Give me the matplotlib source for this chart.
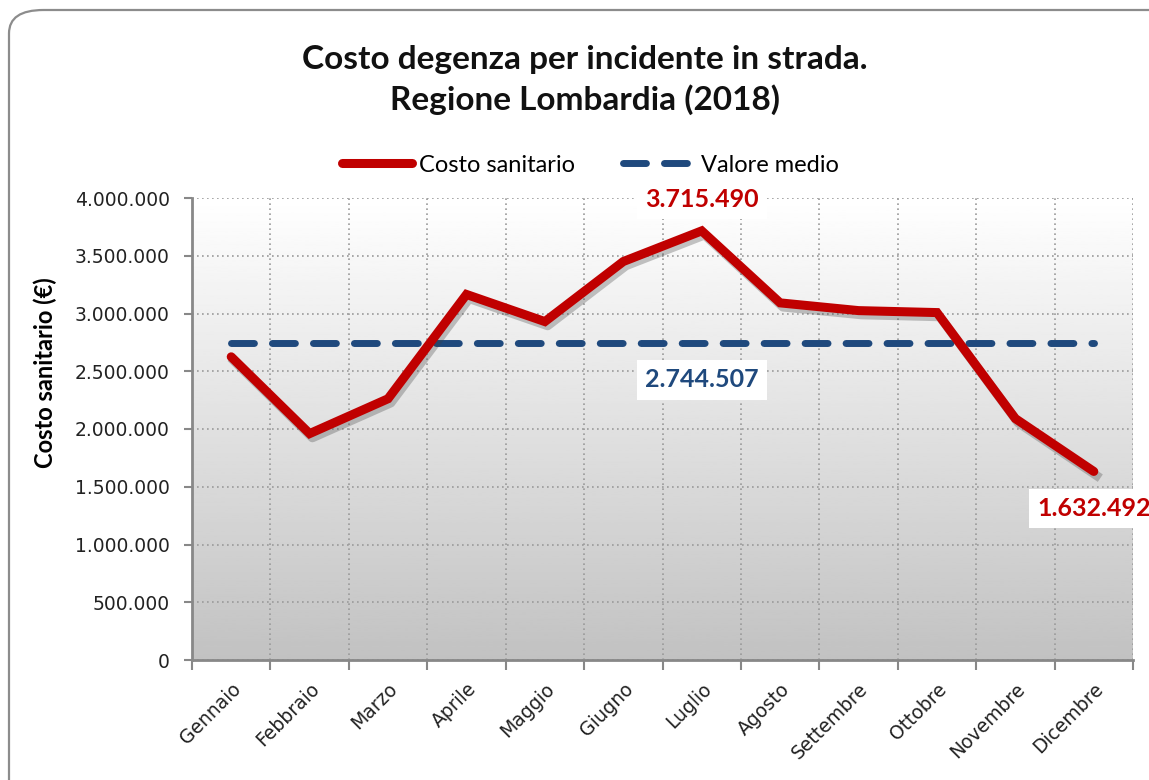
import numpy as np
import matplotlib.pyplot as plt
import matplotlib.patheffects as pe
from matplotlib.patches import FancyBboxPatch
from matplotlib.ticker import FuncFormatter, FixedLocator

mesi = ['Gennaio', 'Febbraio', 'Marzo', 'Aprile', 'Maggio', 'Giugno',
        'Luglio', 'Agosto', 'Settembre', 'Ottobre', 'Novembre', 'Dicembre']
costo = [2625000, 1960000, 2262000, 3165000, 2930000, 3450000,
         3715490, 3092000, 3025000, 3008000, 2090000, 1632492]
valore_medio = 2744507

ROSSO = '#c00000'
BLU = '#1f497d'
TXT = 'Lato'


def fmt_it(v, pos=None):
    return f'{int(round(v)):,}'.replace(',', '.')


fig = plt.figure(figsize=(11.49, 7.80), dpi=100)
fig.patch.set_facecolor('white')

# bordo arrotondato stile Excel
bordo = FancyBboxPatch((9 / 1149, -0.1), 1.2, 1.1 - 10 / 780,
                       boxstyle='round,pad=0,rounding_size=0.03',
                       transform=fig.transFigure, facecolor='none',
                       edgecolor='#8c8c8c', linewidth=1.6, zorder=0)
fig.patches.append(bordo)

ax = fig.add_axes([192 / 1149, 120 / 780, (1133 - 192) / 1149, (660 - 198) / 780])

# sfondo sfumato
grad = np.linspace(1.0, 0.76, 256).reshape(-1, 1)
ax.imshow(grad, cmap='gray', vmin=0, vmax=1, aspect='auto',
          extent=[0, 1, 0, 1], transform=ax.transAxes, zorder=0)

x = np.arange(len(mesi))
# ombra della linea (senza etichetta, cosi' non finisce in legenda)
ax.plot(x, costo, color='none', lw=6.5, zorder=3.5,
        path_effects=[pe.SimpleLineShadow(offset=(2, -3), alpha=0.3,
                                          shadow_color='#404040')])
ax.plot(x, costo, color=ROSSO, lw=6.5, solid_capstyle='round',
        solid_joinstyle='miter', zorder=4, label='Costo sanitario')
ax.plot([x[0], x[-1]], [valore_medio, valore_medio], color=BLU, lw=5,
        dashes=(3.3, 2.6), dash_capstyle='round', zorder=3,
        label='Valore medio')

ax.set_xlim(-0.5, len(mesi) - 0.5)
ax.set_ylim(0, 4000000)
ax.set_yticks(np.arange(0, 4000001, 500000))
ax.yaxis.set_major_formatter(FuncFormatter(fmt_it))
ax.set_xticks(x)
ax.set_xticklabels(mesi, rotation=45, ha='right', rotation_mode='anchor')
ax.xaxis.set_minor_locator(FixedLocator(np.arange(-0.5, len(mesi), 1)))

ax.tick_params(axis='y', length=6, width=1.5, color='#888888',
               labelsize=13.5, labelcolor='#222222', pad=10)
ax.tick_params(axis='x', which='major', length=0, labelsize=13.5,
               labelcolor='#222222', pad=14)
ax.tick_params(axis='x', which='minor', length=7, width=1.5, color='#888888')

ax.grid(axis='y', which='major', color='#9a9a9a', ls=(0, (1, 2)), lw=1.2, zorder=1)
ax.grid(axis='x', which='minor', color='#9a9a9a', ls=(0, (1, 2)), lw=1.2, zorder=1)
ax.set_axisbelow(True)

for s in ['top', 'right']:
    ax.spines[s].set_visible(False)
for s in ['left', 'bottom']:
    ax.spines[s].set_color('#888888')
    ax.spines[s].set_linewidth(2)

ax.set_ylabel('Costo sanitario (€)', fontfamily=TXT, fontweight='bold',
              fontsize=17, va='center')
ax.yaxis.set_label_coords(-0.156, 0.623)

# etichette dati
box = dict(facecolor='white', edgecolor='none', pad=6)
ax.text(6, 3715490 + 170000, fmt_it(3715490), color=ROSSO, fontfamily=TXT,
        fontweight='bold', fontsize=18, ha='center', va='bottom', bbox=box,
        zorder=6, clip_on=False)
ax.text(6, valore_medio - 220000, fmt_it(valore_medio), color=BLU,
        fontfamily=TXT, fontweight='bold', fontsize=18, ha='center',
        va='top', bbox=box, zorder=6)
ax.text(11, 1632492 - 220000, fmt_it(1632492), color=ROSSO, fontfamily=TXT,
        fontweight='bold', fontsize=18, ha='center', va='top', bbox=box,
        zorder=6, clip_on=False)

fig.text(0.509, 0.898, 'Costo degenza per incidente in strada.\nRegione Lombardia (2018)',
         ha='center', va='center', fontfamily=TXT, fontweight='bold',
         fontsize=24, linespacing=1.4, color='#111111')

leg = ax.legend(loc='center', bbox_to_anchor=(590 / 1149, 615 / 780),
                bbox_transform=fig.transFigure, ncol=2, frameon=False,
                handlelength=3, handletextpad=0.3, columnspacing=2.0,
                prop={'family': TXT, 'size': 17})

fig.savefig('out.png', dpi=100)
